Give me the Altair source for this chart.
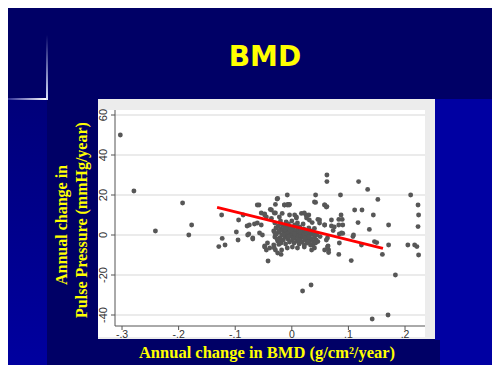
import altair as alt
import pandas as pd

# ---------------- data ----------------
bmd_sparse = [-0.303, -0.279, -0.241, -0.193, -0.177, -0.182, -0.124, -0.123, -0.118, -0.129,
              -0.098, -0.095, -0.094, -0.086, -0.079, -0.076, -0.069, -0.058, -0.054, -0.048,
              -0.036, -0.026, -0.029, -0.048, -0.045, -0.042, -0.038, -0.036, -0.032, -0.029,
              -0.023, -0.019, -0.017, -0.013, -0.008, -0.005, -0.004, 0.008, 0.017, 0.025,
              0.042, 0.042, 0.046, 0.062, 0.062, 0.058, 0.062, 0.086, 0.087, 0.083,
              0.089, 0.090, 0.083, 0.111, 0.124, 0.118, 0.134, 0.117, 0.152, 0.144,
              0.137, 0.171, 0.171, 0.160, 0.210, 0.223, 0.224, 0.223, 0.205, 0.217,
              0.221, 0.224, 0.183, 0.105, 0.083, 0.123, 0.146, 0.150, 0.109, 0.108,
              0.090, 0.084, 0.073, 0.070, 0.064, 0.065, 0.061, 0.049, 0.058, 0.030,
              0.036, 0.040, 0.050, 0.046, 0.037, 0.142, 0.170, 0.019, 0.034, 0.065,
              -0.025, -0.029, -0.007, -0.004]
pp_sparse = [50, 22, 2, 16, 5, 0, 10, -1.7, -5, -5.8,
             1.5, -2.5, 7.5, 10, 4.5, 0.5, -2, 15, 11, 10.5,
             12.5, 18, 11, -5.5, -7.5, -13, 12.8, 8.3, -5, -7.5,
             -4.7, -9.7, 10.8, 15, 20, 15, 10, 9, 10.8, 10,
             20, 16.3, 7.8, 30, 26.7, 15, 14.2, 20, 10, 7.8,
             7.8, 5, 5, 12.5, 12.5, 26.7, 22.8, 6.2, 17.8, 10,
             2.8, 5, -5, -9.7, 20, 15, 10, 4.2, -5, -5,
             -5.8, -10, -20, -12.8, -9.7, -5, -3.3, -3.8, 0, -0.8,
             0.8, 0.5, 2.2, 4.5, -5.5, -7.5, -2.5, 7.5, 5, 10,
             6.2, 3.3, -0.8, -3.3, -5, -42, -40, -28, -25, -8.8,
             18.3, 15.3, 15.3, 15.3]

bmd_ring = [-0.075, -0.066, -0.061, -0.054, -0.078, -0.069, -0.057, -0.052, -0.061, -0.013,
            -0.008, -0.031, -0.022, 0.005, 0.008, 0.022, 0.026, 0.031, 0.040, 0.058,
            0.061, 0.049, 0.058, 0.070, 0.075, 0.088, 0.063, 0.084, 0.058, 0.063,
            0.040, 0.035, 0.022, 0.010, 0.001, -0.008, -0.018, -0.031, -0.025, -0.043,
            -0.039, -0.048, -0.048, -0.045, -0.030, -0.020, -0.010, 0.000, 0.010, 0.020]
pp_ring = [5, 5.5, 6, 5, 0, -1.5, 1, 0, 15, 15,
           15, 11, 9, 10, 8.5, 11, 8.5, 7.5, 16.5, 15,
           14, 6, 5, 7.5, 4, 1, -1.5, -4, -7.5, -6,
           -6.5, -7.5, -6, -6.5, -6, -6.5, -7.5, -6.5, -9, -4,
           -6.5, -6, 10, 9, 6, 7, 6.5, 7, 6, 5.5]

bmd_core = [-0.032, -0.030, -0.028, -0.027, -0.025, -0.024, -0.022, -0.021, -0.020, -0.019,
            -0.018, -0.017, -0.016, -0.015, -0.014, -0.013, -0.012, -0.011, -0.010, -0.009,
            -0.008, -0.007, -0.006, -0.005, -0.004, -0.003, -0.002, -0.001, 0.000, 0.001,
            0.002, 0.003, 0.004, 0.005, 0.006, 0.007, 0.008, 0.009, 0.010, 0.011,
            0.012, 0.013, 0.014, 0.015, 0.016, 0.017, 0.018, 0.019, 0.020, 0.021,
            0.022, 0.023, 0.024, 0.025, 0.026, 0.027, 0.028, 0.029, 0.030, 0.031,
            0.032, 0.033, 0.034, 0.035, 0.036, 0.038, 0.039, 0.040, 0.042, 0.043,
            0.044, -0.026, -0.023, -0.018, -0.012, -0.006, 0.000, 0.003, 0.008, 0.012,
            0.018, 0.022, 0.026, -0.030, -0.015, 0.005, 0.015, 0.030]
pp_core = [2, -1, 3.5, 0.5, -3, 4.5, 1.5, -1.5, 3, -4,
           0, 5, 2.5, -2.5, 1, 4, -1, -4.5, 2, 0.5,
           3.5, -2, 5.5, 1, -3.5, 2.5, -0.5, 4, 0, -2.5,
           3, 1.5, -4, 5, -1, 2, 0.5, -3, 3.5, -0.5,
           1.5, -4.5, 4, -2, 0, 2.5, -3.5, 1, -1, 3,
           -5, 0.5, -2.5, 2, -0.5, -4, 1.5, -1.5, 3.5, -3,
           0, -5, 2, -2, 0.5, -3.5, 1, -1, -4, -2.5,
           0, -2, 2, -2.5, 3, -1, 2, -1.5, 4.5, -2.5,
           2.5, -1.5, 1, 1, 0, 0.5, 1.5, -1]

fit_bmd = [-0.132, 0.161]
fit_pp = [13.8, -6.7]

x_ticks = [-0.3, -0.2, -0.1, 0.0, 0.1, 0.2]
x_tick_labels = ["-.3", "-.2", "-.1", "0", ".1", ".2"]
y_ticks = [-40, -20, 0, 20, 40, 60]
y_tick_labels = ["-40", "-20", "0", "20", "40", "60"]

slide_title = "BMD"
x_title = "Annual change in BMD (g/cm\u00b2/year)"
y_title_lines = ["Annual change in", "Pulse Pressure (mmHg/year)"]

# ---------------- build ----------------
pts = pd.DataFrame({"bmd": bmd_sparse + bmd_ring + bmd_core,
                    "pp": pp_sparse + pp_ring + pp_core})
fit = pd.DataFrame({"bmd": fit_bmd, "pp": fit_pp})
xt = pd.DataFrame({"t": x_ticks, "lab": x_tick_labels})
yt = pd.DataFrame({"t": y_ticks, "lab": y_tick_labels})

xs = alt.Scale(domain=[-0.3124, 0.2353], nice=False, zero=False)
ys = alt.Scale(domain=[-45.5, 62.5], nice=False, zero=False)

one = alt.Data(values=[{}])
AXC = "#555555"
LBL = "#333333"


def box(x1, x2, y1, y2, color):
    return alt.Chart(one).mark_rect(color=color, strokeWidth=0).encode(
        x=alt.value(x1), x2=alt.value(x2), y=alt.value(y1), y2=alt.value(y2))


def vgrad(c1, c2):
    return alt.LinearGradient(gradient="linear",
                              stops=[alt.GradientStop(color=c1, offset=0),
                                     alt.GradientStop(color=c2, offset=1)],
                              x1=0, x2=0, y1=0, y2=1)


def hgrad(c1, c2):
    return alt.LinearGradient(gradient="linear",
                              stops=[alt.GradientStop(color=c1, offset=0),
                                     alt.GradientStop(color=c2, offset=1)],
                              x1=0, x2=1, y1=0, y2=0)


bright = box(320, 385, -11, 263, "#0000a2")
left_strip = box(-115, -68, -10, 263, vgrad("#00007a", "#0000a0"))
hline = box(-115, -69, -12, -10, hgrad("#000080", "#ffffff"))
vline = box(-69, -67, -75, -10, vgrad("#000066", "#dde6ff"))
xbox = box(-68, 325, 230, 255, "#000066")
panel = box(-17, 320, -11, 229, "#ececec")
white = box(-17, 310, 0, 227, "#ffffff")

# grid lines and axes, positioned through the shared scales
gridlines = alt.Chart(yt).mark_rule(color="#e4e4e4", strokeWidth=1.5).encode(
    y=alt.Y("t:Q", scale=ys, axis=None), x=alt.value(0), x2=alt.value(310))
y_domain = alt.Chart(one).mark_rule(color=AXC, strokeWidth=1).encode(
    x=alt.value(0), y=alt.value(0), y2=alt.value(216))
x_domain = alt.Chart(one).mark_rule(color=AXC, strokeWidth=1).encode(
    x=alt.value(0), x2=alt.value(310), y=alt.value(216))
y_tick_marks = alt.Chart(yt).mark_rule(color=AXC, strokeWidth=1).encode(
    y=alt.Y("t:Q", scale=ys, axis=None), x=alt.value(-4), x2=alt.value(0))
x_tick_marks = alt.Chart(xt).mark_rule(color=AXC, strokeWidth=1).encode(
    x=alt.X("t:Q", scale=xs, axis=None), y=alt.value(216), y2=alt.value(220))
y_tick_text = alt.Chart(yt).mark_text(
    angle=270, align="center", baseline="bottom", font="Liberation Sans",
    fontSize=11, color=LBL).encode(
    y=alt.Y("t:Q", scale=ys, axis=None), x=alt.value(-6), text="lab:N")
x_tick_text = alt.Chart(xt).mark_text(
    align="center", baseline="top", font="Liberation Sans",
    fontSize=10.5, color=LBL).encode(
    x=alt.X("t:Q", scale=xs, axis=None), y=alt.value(219.5), text="lab:N")

points = alt.Chart(pts).mark_circle(size=24, color="#575757", opacity=1).encode(
    x=alt.X("bmd:Q", scale=xs, axis=None),
    y=alt.Y("pp:Q", scale=ys, axis=None),
)

fit_line = alt.Chart(fit).mark_line(color="#ff0000", strokeWidth=3).encode(
    x=alt.X("bmd:Q", scale=xs, axis=None), y=alt.Y("pp:Q", scale=ys, axis=None))


def txt(s, x, y, size, font, angle=0, baseline="alphabetic"):
    return alt.Chart(one).mark_text(text=s, font=font, fontWeight="bold", fontSize=size,
                                    color="#ffff00", align="center", baseline=baseline,
                                    angle=angle).encode(x=alt.value(x), y=alt.value(y))


t_title = txt(slide_title, 150, -44, 28, "DejaVu Sans")
t_x = txt(x_title, 152, 248, 16.5, "Liberation Serif")
t_y1 = txt(y_title_lines[0], -53, 115, 16, "Liberation Serif", angle=270, baseline="middle")
t_y2 = txt(y_title_lines[1], -33, 110, 16, "Liberation Serif", angle=270, baseline="middle")

chart = alt.layer(
    bright, left_strip, hline, vline, xbox, panel, white,
    gridlines, y_domain, x_domain, y_tick_marks, x_tick_marks, y_tick_text, x_tick_text,
    points, fit_line, t_title, t_x, t_y1, t_y2
).properties(
    width=310, height=216, background="#000066",
    padding={"left": 107, "top": 102, "right": 67, "bottom": 39},
    autosize=alt.AutoSizeParams(type="none"),
).configure_view(stroke=None)

chart.save("out.html", embed_options={"renderer": "svg", "actions": False})
